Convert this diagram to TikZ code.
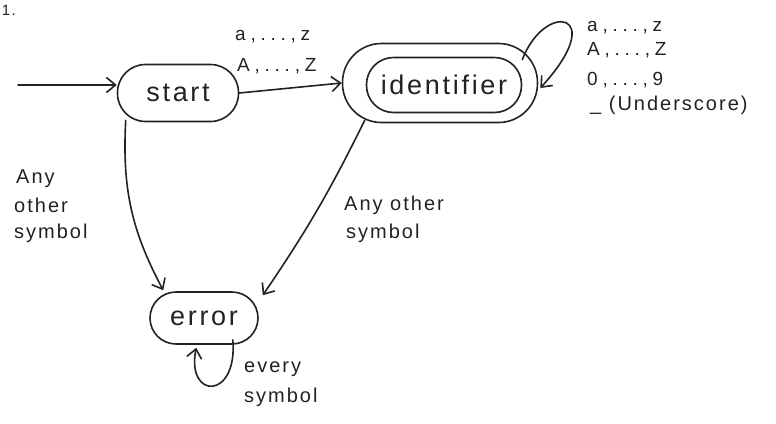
\documentclass[tikz,border=0pt]{standalone}
\usepackage{fontspec}
\setmainfont{Liberation Sans}
\newfontfamily\hand[LetterSpace=10]{Liberation Sans}
\newfontfamily\handwide[LetterSpace=25]{Liberation Sans}
\usetikzlibrary{arrows.meta,calc}
\definecolor{ink}{HTML}{222222}
\tikzset{
  pen/.style={draw=ink, line width=1.6pt, line cap=round, line join=round},
  arr/.style={pen, -{Straight Barb[length=9pt,width=15pt,line width=1.6pt]}},
  state/.style={pen, rectangle, rounded corners=28pt, inner sep=0pt,
    font=\hand\fontsize{27}{30}\selectfont, text=ink},
  lbl/.style={font=\hand\fontsize{20}{24}\selectfont, text=ink, inner sep=0pt},
  lblwide/.style={font=\handwide\fontsize{19}{24}\selectfont, text=ink, inner sep=0pt},
}
\begin{document}
\begin{tikzpicture}[x=1pt,y=-1pt]
  \useasboundingbox (0,0) rectangle (776,423);

  % page number fragment
  \node[lbl, font=\hand\fontsize{15}{18}\selectfont, anchor=base east] (num) at (16,15) {1.};

  % states
  \node[state, minimum width=121pt, minimum height=57pt] (start) at (178,93) {start};
  \node[state, minimum width=195pt, minimum height=79pt, rounded corners=39pt] (idout) at (440,83) {};
  \node[state, minimum width=155pt, minimum height=55pt, rounded corners=27pt] (ident) at (444,85) {identifier};
  \node[state, minimum width=108pt, minimum height=52pt, rounded corners=26pt] (error) at (204,318) {error};

  % initial arrow
  \coordinate (init) at (18,85);
  \draw[arr] (init) -- (init -| start.west);

  % start -> identifier
  \draw[arr] (start.east) -- (idout.west);
  \node[lblwide, anchor=base west] (l1a) at (235,40) {a,...,z};
  \node[lblwide, anchor=base west] (l1b) at (237,71) {A,...,Z};

  % identifier self loop
  \draw[arr] ($(idout.north east)+(-16,17)$) .. controls (545,0) and (610,12) .. ($(idout.east)+(2,5)$);
  \node[lblwide, anchor=base west] (l2a) at (587,31) {a,...,z};
  \node[lblwide, anchor=base west] (l2b) at (587,55) {A,...,Z};
  \node[lblwide, anchor=base west] (l2c) at (587,85) {0,...,9};
  \node[lbl, anchor=base west] (l2d) at (590,110) {\_ (Underscore)};

  % start -> error
  \draw[arr] ($(start.south west)+(9,-2)$) to[out=-93,in=118] ($(error.north west)+(14,-1)$);
  \node[lbl, anchor=base west] (l3a) at (16,183) {Any};
  \node[lbl, anchor=base west] (l3b) at (14,212) {other};
  \node[lbl, anchor=base west] (l3c) at (14,238) {symbol};

  % identifier -> error
  \draw[arr] ($(idout.south west)+(23,-3)$) to[bend left=4] ($(error.north east)+(4,4)$);
  \node[lbl, anchor=base west] (l4a) at (344,210) {Any other};
  \node[lbl, anchor=base west] (l4b) at (346,238) {symbol};

  % error self loop
  \draw[arr] ($(error.south east)+(-26,-5)$) .. controls (238,400) and (186,400) .. ($(error.south west)+(47,3)$);
  \node[lbl, anchor=base west] (l5a) at (244,372) {every};
  \node[lbl, anchor=base west] (l5b) at (244,402) {symbol};
\end{tikzpicture}
\end{document}
